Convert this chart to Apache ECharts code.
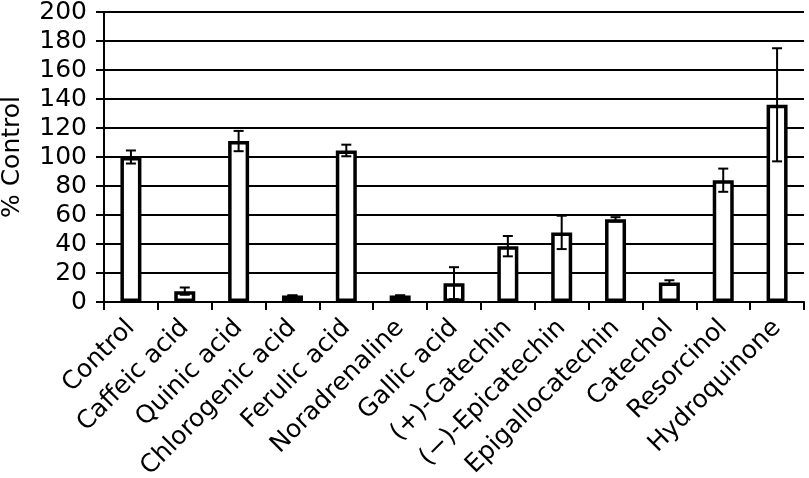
<!DOCTYPE html>
<html>
<head>
<meta charset="utf-8">
<script src="https://cdn.jsdelivr.net/npm/echarts@6/dist/echarts.min.js"></script>
<style>
    html, body { margin: 0; padding: 0; background: #fff; }
    #chart { width: 809px; height: 478px; }
</style>
</head>
<body>
<div id="chart"></div>
<script>
// compounds on the x axis
const categories = ['Control', 'Caffeic acid', 'Quinic acid', 'Chlorogenic acid', 'Ferulic acid',
    'Noradrenaline', 'Gallic acid', '(+)-Catechin', '(\u2212)-Epicatechin', 'Epigallocatechin',
    'Catechol', 'Resorcinol', 'Hydroquinone'];
// % control (bar heights)
const means = [100, 7.5, 111, 4.5, 104.5, 4.5, 13, 38.5, 48, 57, 13.5, 84, 136];
// error bar half-lengths
const errors = [4.5, 2.5, 7, 0, 4, 0, 11, 7, 11.5, 1.5, 1.5, 8, 39];
const yTicks = { min: 0, max: 200, interval: 20 };

const FONT = 'DejaVu Sans';
const chart = echarts.init(document.getElementById('chart'));

const errData = means.map((m, i) => [i, m - errors[i], m + errors[i]]);

chart.setOption({
    animation: false,
    backgroundColor: '#fff',
    grid: { left: 104, right: 5, top: 12, bottom: 176, outerBoundsMode: 'none', containLabel: false },
    xAxis: {
        type: 'category',
        data: categories,
        axisLine: { lineStyle: { color: '#000', width: 2 } },
        axisTick: { show: true, length: 8, inside: false, lineStyle: { color: '#000', width: 2 } },
        axisLabel: {
            rotate: 45,
            interval: 0,
            margin: 22,
            padding: [12, 0, 0, 0],
            color: '#000',
            fontFamily: FONT,
            fontSize: 25
        }
    },
    yAxis: {
        type: 'value',
        min: yTicks.min,
        max: yTicks.max,
        interval: yTicks.interval,
        name: '% Control',
        nameLocation: 'middle',
        nameGap: 79,
        nameTextStyle: { color: '#000', fontFamily: FONT, fontSize: 25 },
        axisLine: { show: true, lineStyle: { color: '#000', width: 2 } },
        axisTick: { show: true, length: 8, lineStyle: { color: '#000', width: 2 } },
        axisLabel: { color: '#000', fontFamily: FONT, fontSize: 25, margin: 17 },
        splitLine: { show: true, lineStyle: { color: '#000', width: 2 } }
    },
    series: [
        {
            type: 'bar',
            data: means,
            barWidth: 21,
            itemStyle: { color: '#fff', borderColor: '#000', borderWidth: 3.5 },
            z: 2
        },
        {
            type: 'custom',
            data: errData,
            z: 3,
            renderItem: (params, api) => {
                const idx = api.value(0);
                const lo = api.coord([idx, api.value(1)]);
                const hi = api.coord([idx, api.value(2)]);
                const hw = 5;
                const style = { stroke: '#000', lineWidth: 2 };
                return {
                    type: 'group',
                    children: [
                        { type: 'line', shape: { x1: hi[0], y1: hi[1], x2: lo[0], y2: lo[1] }, style },
                        { type: 'line', shape: { x1: hi[0] - hw, y1: hi[1], x2: hi[0] + hw, y2: hi[1] }, style },
                        { type: 'line', shape: { x1: lo[0] - hw, y1: lo[1], x2: lo[0] + hw, y2: lo[1] }, style }
                    ]
                };
            }
        }
    ]
});
</script>
</body>
</html>
